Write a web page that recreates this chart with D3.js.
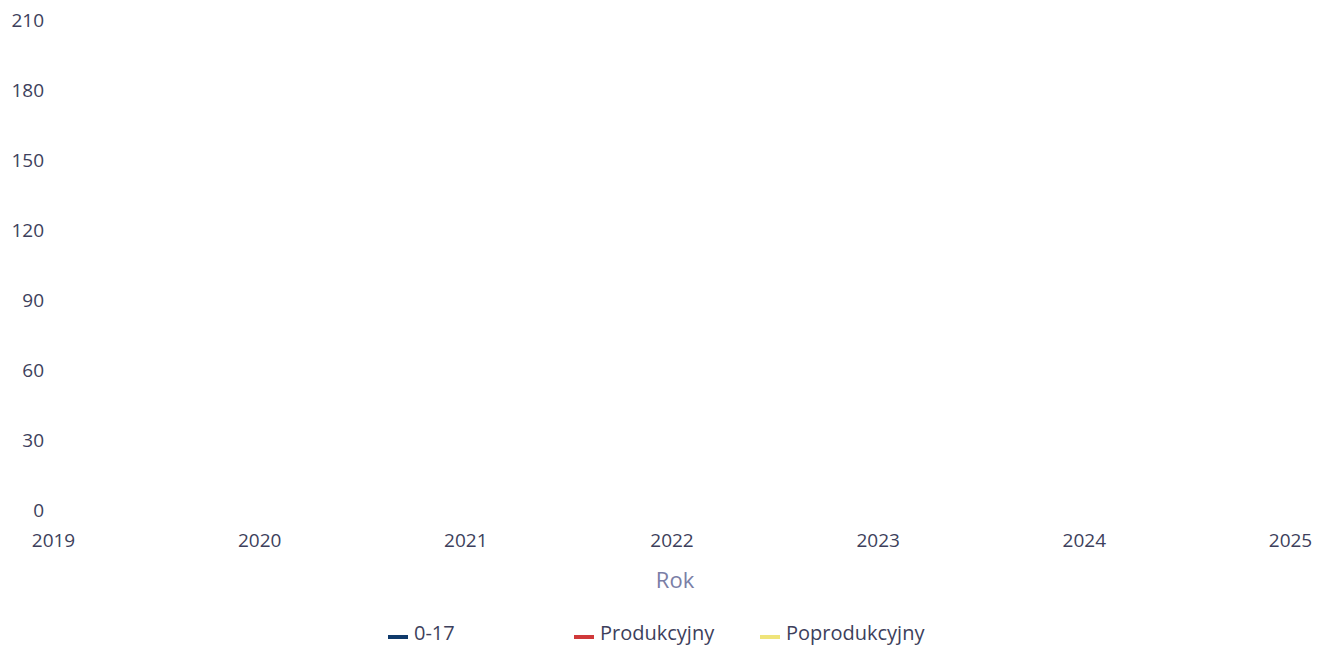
<!DOCTYPE html>
<html>
<head>
<meta charset="utf-8">
<script src="https://cdn.jsdelivr.net/npm/d3@7"></script>
<style>
  body { margin: 0; background: #fff; }
  text { font-family: "Open Sans", "Noto Sans", sans-serif; }
</style>
</head>
<body>
<div id="chart"></div>
<script>
// Years on the x axis
const years = [2019, 2020, 2021, 2022, 2023, 2024, 2025];
// Y axis ticks
const yTicks = [0, 30, 60, 90, 120, 150, 180, 210];
// Series (no values shown in the picture)
const seriesNames = ["0-17", "Produkcyjny", "Poprodukcyjny"];
const seriesColors = ["#0f3a6b", "#d0393a", "#efe47a"];
const values0_17 = [];
const valuesProdukcyjny = [];
const valuesPoprodukcyjny = [];
const seriesValues = [values0_17, valuesProdukcyjny, valuesPoprodukcyjny];

var width = 1324, height = 647;
var margin = { top: 20, right: 34, bottom: 137, left: 53 };

var svg = d3.select("#chart")
  .append("svg")
    .attr("width", width)
    .attr("height", height);

var x = d3.scaleLinear()
    .domain([d3.min(years), d3.max(years)])
    .range([margin.left, width - margin.right]);

var y = d3.scaleLinear()
    .domain([0, 210])
    .range([height - margin.bottom, margin.top]);

// y axis labels
var yAxis = svg.append("g")
    .attr("transform", "translate(44,0)")
    .call(d3.axisLeft(y).tickValues(yTicks).tickSize(0).tickPadding(0));
yAxis.select(".domain").remove();
yAxis.selectAll("text")
    .style("font-size", "19px")
    .attr("fill", "#3d3f5c");

// x axis labels
var xAxis = svg.append("g")
    .attr("transform", `translate(0,${height - margin.bottom + 23})`)
    .call(d3.axisBottom(x).tickValues(years).tickFormat(d3.format("d")).tickSize(0).tickPadding(0));
xAxis.select(".domain").remove();
xAxis.selectAll("text")
    .style("font-size", "19px")
    .attr("fill", "#3d3f5c");

// x axis title
svg.append("text")
    .attr("x", 675)
    .attr("y", 588)
    .attr("text-anchor", "middle")
    .style("font-size", "22px")
    .attr("fill", "#7a7ea6")
    .text("Rok");

// lines (empty in the reference)
var line = d3.line()
    .x((d, i) => x(years[i]))
    .y(d => y(d));

svg.append("g")
  .selectAll("path")
  .data(seriesValues)
  .enter()
  .append("path")
    .attr("fill", "none")
    .attr("stroke", (d, i) => seriesColors[i])
    .attr("stroke-width", 2)
    .attr("d", d => d.length ? line(d) : null);

// legend
const legend = svg.append("g")
    .attr("transform", "translate(388,634)");

seriesNames.forEach((name, i) => {
    legend.append("rect")
        .attr("x", i * 186)
        .attr("y", 1)
        .attr("width", 20)
        .attr("height", 4)
        .style("fill", seriesColors[i]);

    legend.append("text")
        .attr("x", i * 186 + 26)
        .attr("y", 0)
        .attr("dy", "0.32em")
        .text(name)
        .style("font-size", "20px")
        .attr("fill", "#3d3f5c");
});
</script>
</body>
</html>
